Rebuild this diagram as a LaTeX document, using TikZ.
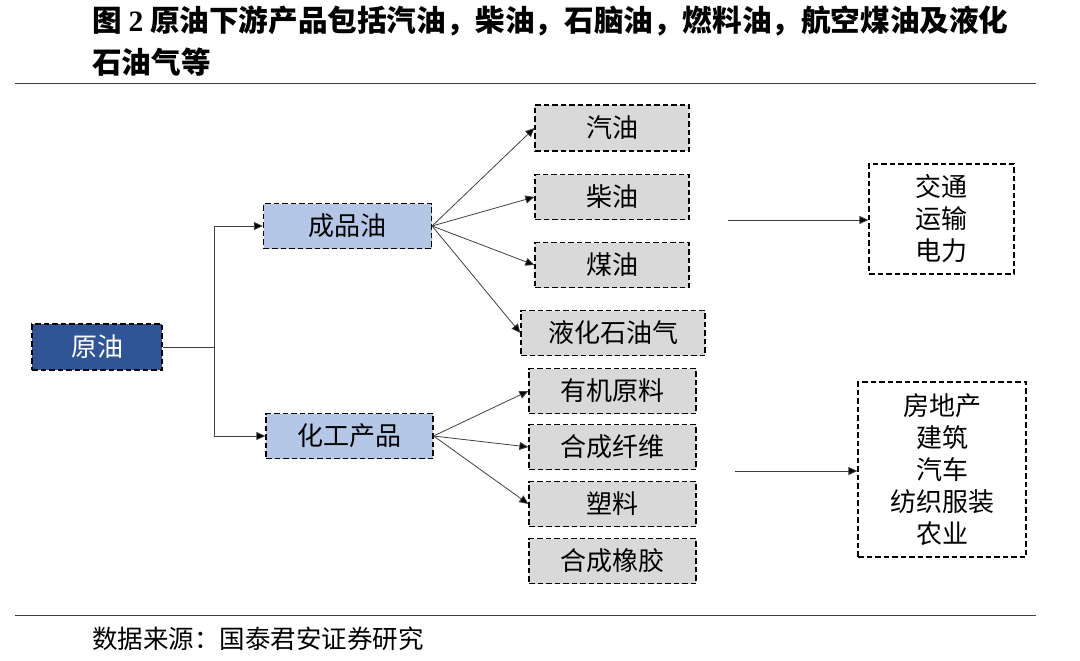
\documentclass[tikz,border=0pt]{standalone}
\usepackage{fontspec}
\setmainfont{Liberation Serif}
\newfontfamily\cjk{Noto Sans CJK SC}
\usetikzlibrary{arrows.meta}
\definecolor{darkblue}{HTML}{2F5597}
\definecolor{lightblue}{HTML}{B4C7E7}
\definecolor{boxgray}{HTML}{D9D9D9}
\definecolor{linegray}{HTML}{404040}
\tikzset{
  box/.style={draw=black, dash pattern=on 5.5pt off 3pt, line width=1.2pt, inner sep=0pt,
    align=center, font=\cjk\fontsize{26}{32}\selectfont},
  bluebox/.style={box, fill=lightblue},
  graybox/.style={box, fill=boxgray},
  arr/.style={draw=linegray, line width=0.8pt, -{Triangle[length=9pt,width=8pt,fill=black]}},
  rule/.style={draw=linegray, line width=1pt}
}
\begin{document}
\begin{tikzpicture}[x=1pt,y=-1pt]
\useasboundingbox (0,0) rectangle (1080,661);
% title
\node[anchor=west, inner sep=0pt, font=\cjk\bfseries\fontsize{29.6}{34}\selectfont] (t1) at (92,21)
  {图 {\rmfamily\bfseries 2} 原油下游产品包括汽油，柴油，石脑油，燃料油，航空煤油及液化};
\node[anchor=west, inner sep=0pt, font=\cjk\bfseries\fontsize{29.6}{34}\selectfont] (t2) at (92,62) {石油气等};
\coordinate (r1a) at (15,84); \coordinate (r1b) at (1036,84);
\draw[rule] (r1a) -- (r1b);
\coordinate (r2a) at (15,615); \coordinate (r2b) at (1036,615);
\draw[rule] (r2a) -- (r2b);
\node[anchor=west, inner sep=0pt, font=\cjk\fontsize{25.5}{28}\selectfont] (src) at (92,639) {数据来源：国泰君安证券研究};

% nodes
\node[box, fill=darkblue, text=white, minimum width=130pt, minimum height=46pt] (yuan) at (97,347) {原油};
\node[bluebox, minimum width=168pt, minimum height=45pt] (cp) at (347.5,226) {成品油};
\node[bluebox, minimum width=167pt, minimum height=45pt] (hg) at (349.5,436) {化工产品};

\node[graybox, minimum width=154pt, minimum height=46pt] (qy) at (612,128) {汽油};
\node[graybox, minimum width=154pt, minimum height=45pt] (cy) at (612,197) {柴油};
\node[graybox, minimum width=154pt, minimum height=45pt] (my) at (612,265) {煤油};
\node[graybox, minimum width=184pt, minimum height=45pt] (yh) at (613,333) {液化石油气};

\node[graybox, minimum width=167pt, minimum height=45pt] (yj) at (612.5,391) {有机原料};
\node[graybox, minimum width=167pt, minimum height=45pt] (xw) at (612.5,447) {合成纤维};
\node[graybox, minimum width=167pt, minimum height=45pt] (sl) at (612.5,504) {塑料};
\node[graybox, minimum width=167pt, minimum height=45pt] (xj) at (612.5,561) {合成橡胶};

\node[box, minimum width=145pt, minimum height=110pt] (use1) at (941.5,219) {交通\\运输\\电力};
\node[box, minimum width=168pt, minimum height=175pt] (use2) at (942,469.5) {房地产\\建筑\\汽车\\纺织服装\\农业};

% connectors
\draw[arr] (yuan.east) -- (214,347) |- (cp.west);
\draw[arr] (yuan.east) -- (214,347) |- (hg.west);

\foreach \t in {qy,cy,my,yh} \draw[arr] (cp.east) -- (\t.west);
\foreach \t in {yj,xw,sl} \draw[arr] (hg.east) -- (\t.west);

\coordinate (a1) at (728,220);
\draw[arr] (a1) -- (a1 -| use1.west);
\coordinate (a2) at (735,471);
\draw[arr] (a2) -- (a2 -| use2.west);
\end{tikzpicture}
\end{document}
